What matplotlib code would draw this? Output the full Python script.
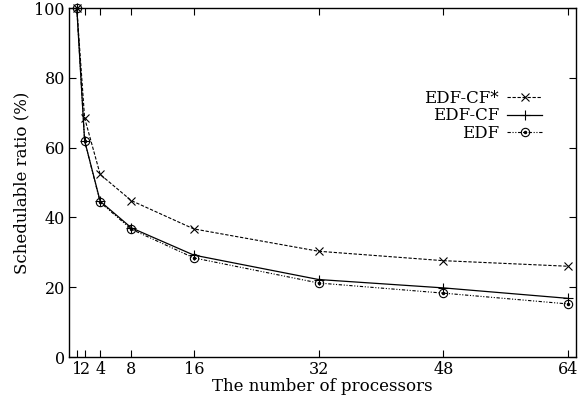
import matplotlib
matplotlib.use("Agg")
import matplotlib.pyplot as plt
from matplotlib.legend_handler import HandlerTuple

processors = [1, 2, 4, 8, 16, 32, 48, 64]
edf_cf_star = [100, 68.5, 52.3, 44.8, 36.7, 30.3, 27.6, 26.0]
edf_cf = [100, 62.0, 44.6, 37.0, 29.2, 22.2, 19.8, 16.8]
edf = [100, 62.0, 44.3, 36.6, 28.4, 21.2, 18.3, 15.2]
xticks = [1, 2, 4, 8, 16, 32, 48, 64]
yticks = [0, 20, 40, 60, 80, 100]

plt.rcParams['font.family'] = ['DejaVu Serif']
fig = plt.figure(figsize=(5.83, 3.98), dpi=100)
ax = fig.add_axes([69/583, 1-357/398, (576-69)/583, (357-8)/398])

l1, = ax.plot(processors, edf_cf_star, color='black', lw=0.8, ls=(0, (3, 1.5)),
              marker='x', ms=5.5, mew=0.8, label='EDF-CF*', clip_on=False)
l2, = ax.plot(processors, edf_cf, color='black', lw=0.9, ls='-',
              marker='+', ms=7.5, mew=0.8, label='EDF-CF', clip_on=False)
l3, = ax.plot(processors, edf, color='black', lw=0.8, ls=(0, (3, 1.5, 1, 1.5, 1, 1.5)),
              marker='o', ms=6, mfc='none', mew=0.8, label='EDF', clip_on=False)
l3d, = ax.plot(processors, edf, color='black', ls='none', marker='o', ms=1.5, clip_on=False)

ax.set_xlim(0, 65)
ax.set_ylim(0, 100)
ax.set_xticks(xticks)
ax.set_yticks(yticks)
ax.tick_params(direction='in', top=True, right=True, length=5, width=0.8, labelsize=11.5, pad=3)
for s in ax.spines.values():
    s.set_linewidth(1.0)
ax.set_xlabel('The number of processors', fontsize=12, labelpad=0)
ax.set_ylabel('Schedulable ratio (%)', fontsize=12, labelpad=3)

ax.legend([l1, l2, (l3, l3d)], ['EDF-CF*', 'EDF-CF', 'EDF'],
          handler_map={tuple: HandlerTuple(ndivide=1, pad=0)},
          loc='upper right', bbox_to_anchor=(0.95, 0.79), frameon=False,
          markerfirst=False, fontsize=12, handlelength=2.1, handletextpad=0.5,
          labelspacing=0.05, borderpad=0, alignment='right')

fig.savefig('out.png', dpi=100)
